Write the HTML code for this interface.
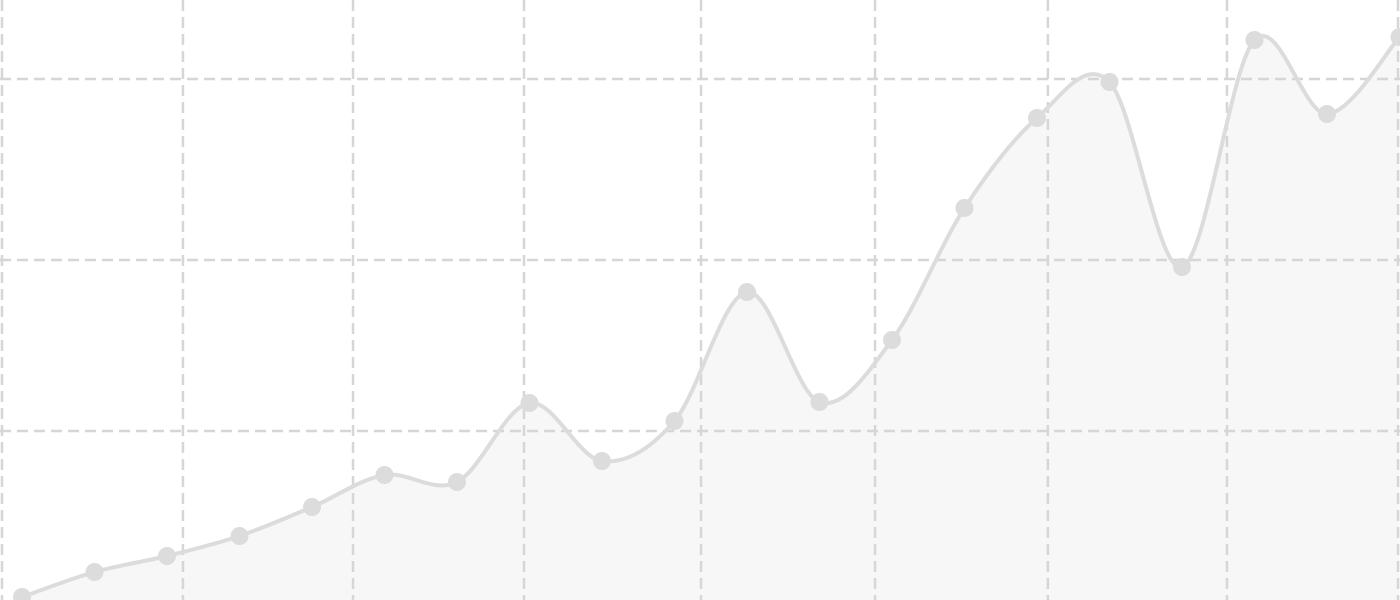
<!DOCTYPE html>
<html><head><meta charset="utf-8"><style>html,body{margin:0;padding:0;background:#fff;overflow:hidden}svg{display:block}</style></head>
<body>
<svg id="chart" width="1400" height="600" viewBox="0 0 1400 600" xmlns="http://www.w3.org/2000/svg">
<path id="area" fill="#f7f7f7" stroke="none"></path>
<g id="grid"></g>
<path id="line" fill="none" stroke="#dcdcdc" stroke-width="4"></path>
<g id="points"></g>
</svg>
<script>
const categories = [1,2,3,4,5,6,7,8,9,10,11,12,13,14,15,16,17,18,19,20];
const values = [3,28,44,64,93,125,118,197,139,179,308,198,260,392,482,518,333,560,486,563];
const yGridValues = [169,340,521];
const xGridCats = [0.724,3.22,5.566,7.924,10.366,12.766,15.15,17.62,19.98];

const X0 = 22, DX = 72.5;
function xScale(c){ return X0 + (c-1)*DX; }
function yScale(v){ return 600 - v; }
const ns = "http://www.w3.org/2000/svg";
const grid = document.getElementById('grid');
yGridValues.forEach(v=>{
  const l=document.createElementNS(ns,'line');
  
  
  l.setAttribute('x1',0);l.setAttribute('x2',1400);
  l.setAttribute('y1',yScale(v));l.setAttribute('y2',yScale(v));
  l.setAttribute('stroke','#d6d6d6');l.setAttribute('stroke-width','2.5');l.setAttribute('stroke-dasharray','11 6');
  grid.appendChild(l);
});
xGridCats.forEach(c=>{
  const l=document.createElementNS(ns,'line');
  
  
  l.setAttribute('x1',xScale(c));l.setAttribute('x2',xScale(c));
  l.setAttribute('y1',0);l.setAttribute('y2',600);
  l.setAttribute('stroke','#d6d6d6');l.setAttribute('stroke-width','2.5');l.setAttribute('stroke-dasharray','11 6');
  grid.appendChild(l);
});
const pts = categories.map((c,i)=>[xScale(c), yScale(values[i])]);
let d = `M${pts[0][0]},${pts[0][1]}`;
for(let i=0;i<pts.length-1;i++){
  const p0=pts[i-1]||pts[i], p1=pts[i], p2=pts[i+1], p3=pts[i+2]||p2;
  const t=1/6;
  d += ` C${p1[0]+(p2[0]-p0[0])*t},${p1[1]+(p2[1]-p0[1])*t} ${p2[0]-(p3[0]-p1[0])*t},${p2[1]-(p3[1]-p1[1])*t} ${p2[0]},${p2[1]}`;
}
document.getElementById('line').setAttribute('d', d);
document.getElementById('area').setAttribute('d', d + ` L${pts[pts.length-1][0]},600 L${pts[0][0]},600 Z`);
const pg = document.getElementById('points');
pts.forEach(p=>{
  const c=document.createElementNS(ns,'circle');
  
  
  c.setAttribute('cx',p[0]);c.setAttribute('cy',p[1]);c.setAttribute('r','9');c.setAttribute('fill','#dcdcdc');
  pg.appendChild(c);
});
</script>
</body></html>
